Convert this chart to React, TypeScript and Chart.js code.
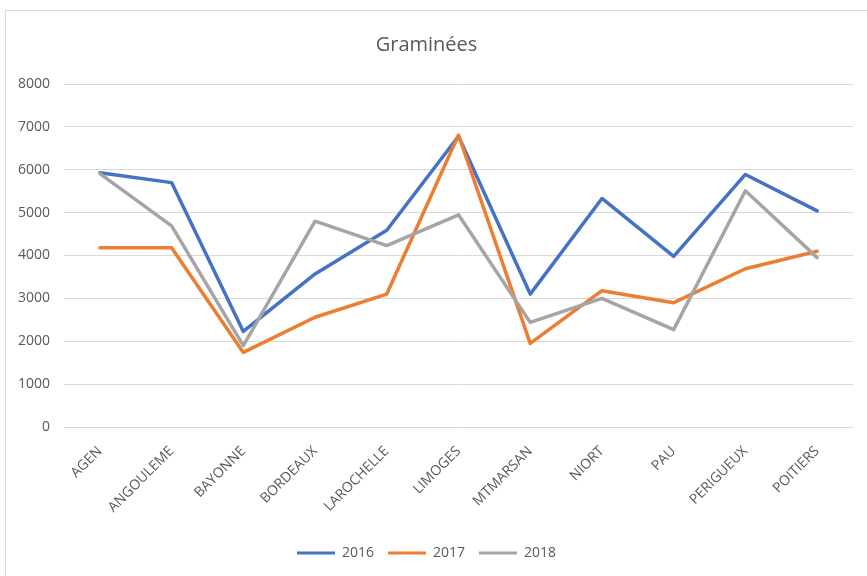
import { useEffect, useRef } from 'react';
import { Chart, registerables } from 'chart.js';

Chart.register(...registerables);

const cities = [
  'AGEN', 'ANGOULEME', 'BAYONNE', 'BORDEAUX', 'LAROCHELLE', 'LIMOGES',
  'MTMARSAN', 'NIORT', 'PAU', 'PERIGUEUX', 'POITIERS',
];
const values2016 = [5930, 5700, 2230, 3570, 4590, 6780, 3100, 5330, 3980, 5890, 5040];
const values2017 = [4180, 4180, 1740, 2560, 3100, 6810, 1950, 3180, 2900, 3690, 4100];
const values2018 = [5910, 4690, 1900, 4800, 4230, 4950, 2440, 3000, 2270, 5510, 3950];
const yMin = 0;
const yMax = 8000;
const yStep = 1000;

const FONT = "'Open Sans', 'Liberation Sans', sans-serif";
const TEXT = '#595959';
const GRID = '#d9d9d9';

export default function App() {
  const ref = useRef<HTMLCanvasElement>(null);

  useEffect(() => {
    const series = [
      { label: '2016', data: values2016, color: '#4472C4', order: 2 },
      { label: '2017', data: values2017, color: '#ED7D31', order: 1 },
      { label: '2018', data: values2018, color: '#A5A5A5', order: 0 },
    ];
    const chart = new Chart(ref.current!, {
      type: 'line',
      data: {
        labels: cities,
        datasets: series.map((s) => ({
          label: s.label,
          data: s.data,
          borderColor: s.color,
          backgroundColor: s.color,
          borderWidth: 3.5,
          pointRadius: 0,
          tension: 0,
          borderJoinStyle: 'round' as const,
          borderCapStyle: 'round' as const,
          order: s.order,
        })),
      },
      options: {
        responsive: false,
        animation: false,
        layout: { padding: { left: 0, right: 14, top: 0, bottom: 6 } },
        font: { family: FONT },
        scales: {
          x: {
            offset: true,
            grid: { display: false },
            border: { display: false },
            ticks: {
              color: TEXT,
              font: { family: FONT, size: 14 },
              minRotation: 45,
              maxRotation: 45,
              autoSkip: false,
              padding: 8,
            },
            afterFit: (s: any) => { s.height = 105; },
          },
          y: {
            min: yMin,
            max: yMax,
            grid: { color: GRID, lineWidth: 1, drawTicks: false },
            border: { display: false },
            ticks: {
              stepSize: yStep,
              color: TEXT,
              font: { family: FONT, size: 14 },
              padding: 14,
              callback: (v: any) => String(v),
            },
            afterFit: (s: any) => { s.width = 64; },
          },
        },
        plugins: {
          title: {
            display: true,
            text: 'Graminées',
            color: TEXT,
            font: { family: FONT, size: 20, weight: 'normal' },
            padding: { top: 33, bottom: 27 },
          },
          legend: {
            position: 'bottom',
            labels: {
              color: TEXT,
              font: { family: FONT, size: 14 },
              boxWidth: 38,
              boxHeight: 3,
              padding: 14,
              generateLabels: (c: any) =>
                Chart.defaults.plugins.legend.labels
                  .generateLabels(c)
                  .map((l: any) => ({ ...l, fillStyle: l.strokeStyle, lineWidth: 0 }))
                  .sort((a: any, b: any) => a.datasetIndex - b.datasetIndex),
            },
          },
          tooltip: { enabled: false },
        },
      },
    });
    return () => chart.destroy();
  }, []);

  return (
    <div style={{ position: 'fixed', left: 0, top: 0, width: 867, height: 576, overflow: 'hidden', background: '#fff' }}>
      <div
        style={{
          position: 'absolute', left: 5, top: 10, width: 900, height: 600,
          border: '1px solid #d9d9d9', boxSizing: 'border-box',
        }}
      />
      <canvas ref={ref} width={867} height={576} style={{ position: 'absolute', left: 0, top: 0 }} />
    </div>
  );
}
